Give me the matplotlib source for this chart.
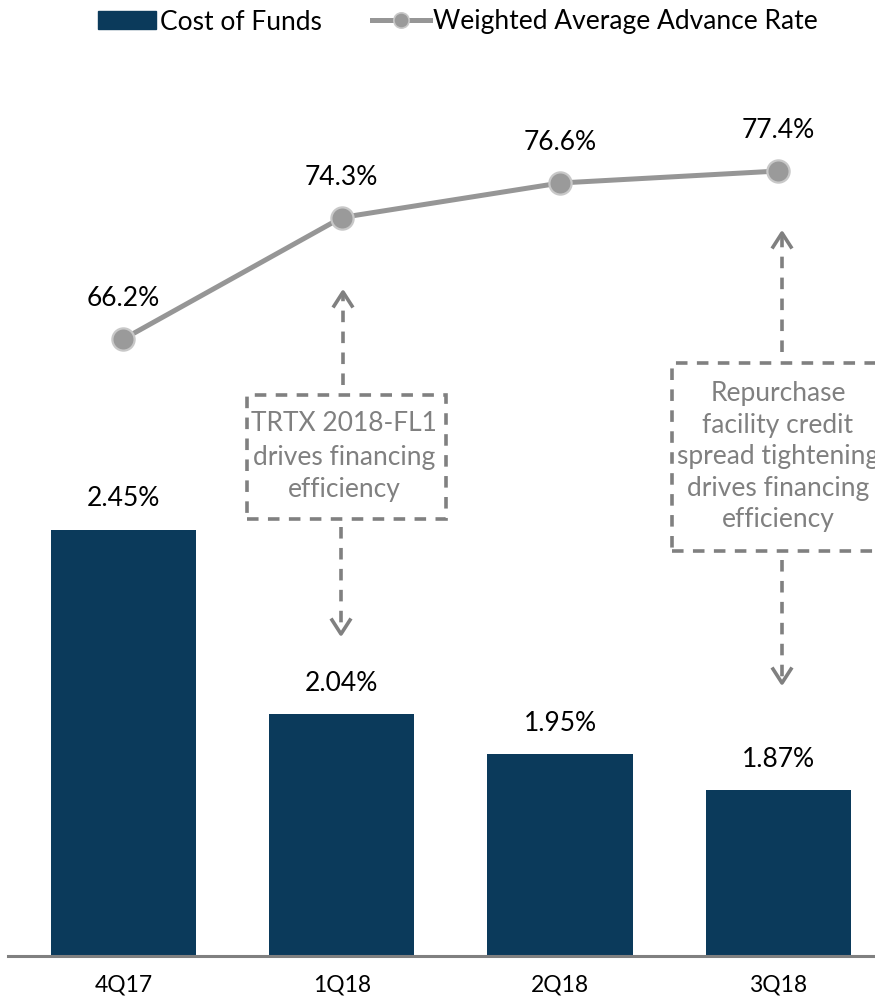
import matplotlib
matplotlib.use("Agg")
import matplotlib.pyplot as plt
from matplotlib.patches import Rectangle
from matplotlib.lines import Line2D

plt.rcParams['font.family'] = ['Lato', 'DejaVu Sans']

# Data
quarters = ["4Q17", "1Q18", "2Q18", "3Q18"]
cost_of_funds = [2.45, 2.04, 1.95, 1.87]          # percent
advance_rate = [66.2, 74.3, 76.6, 77.4]           # percent
bar_labels = ["2.45%", "2.04%", "1.95%", "1.87%"]
line_labels = ["66.2%", "74.3%", "76.6%", "77.4%"]

BAR_COLOR = "#0B3A5B"
LINE_COLOR = "#969696"
NOTE_COLOR = "#808080"
FS = 19

W, H = 875, 997
fig = plt.figure(figsize=(W / 100, H / 100), dpi=100)


def fx(px):
    return px / W


def fy(py):
    return 1 - py / H


ax = fig.add_axes([fx(8), fy(956), fx(867), (956 - 60) / H])
x = list(range(len(quarters)))

ax.bar(x, cost_of_funds, width=0.665, color=BAR_COLOR, zorder=2)
ax.set_ylim(1.5, 3.496)
ax.set_xlim(-0.529, 3.443)

for xi, v, lab in zip(x, cost_of_funds, bar_labels):
    ax.annotate(lab, (xi, v), xytext=(0, 22), textcoords="offset points",
                ha="center", va="center", fontsize=FS, color="black")

for s in ["top", "right", "left"]:
    ax.spines[s].set_visible(False)
ax.spines["bottom"].set_color("#808080")
ax.spines["bottom"].set_linewidth(2.2)
ax.set_yticks([])
ax.set_xticks(x)
ax.set_xticklabels(quarters, fontsize=16.5)
ax.tick_params(axis="x", length=0, pad=13)

ax2 = ax.twinx()
ax2.set_ylim(25.07, 84.8)
ax2.plot(x, advance_rate, color=LINE_COLOR, lw=3.6, marker="o", ms=16,
         mfc="#9A9A9A", mec="#C8C8C8", mew=1.6, zorder=3)
for xi, v, lab in zip(x, advance_rate, line_labels):
    ax2.annotate(lab, (xi, v), xytext=(0, 29), textcoords="offset points",
                 ha="center", va="center", fontsize=FS, color="black")
ax2.set_yticks([])
for s in ["top", "right", "left", "bottom"]:
    ax2.spines[s].set_visible(False)

# Callout boxes with dashed arrows
dash = (0, (3.2, 2.6))


def callout(x0, y0, x1, y1, cx, lines_y, lines, up, down):
    fig.add_artist(Rectangle((fx(x0), fy(y1)), fx(x1 - x0), (y1 - y0) / H,
                             fill=False, ec=NOTE_COLOR, lw=2.6, ls=dash,
                             transform=fig.transFigure))
    for ty, t in zip(lines_y, lines):
        fig.text(fx(cx), fy(ty), t, ha="center", va="center", fontsize=FS,
                 color=NOTE_COLOR)
    for (ax_x, ya, yb) in (up, down):
        fig.add_artist(Line2D([fx(ax_x), fx(ax_x)], [fy(ya), fy(yb)],
                              color=NOTE_COLOR, lw=2.6, ls=dash,
                              transform=fig.transFigure))
        sgn = 1 if yb < ya else -1
        fig.add_artist(Line2D([fx(ax_x - 9), fx(ax_x), fx(ax_x + 9)],
                              [fy(yb + sgn * 14), fy(yb), fy(yb + sgn * 14)],
                              color=NOTE_COLOR, lw=2.6,
                              transform=fig.transFigure))


callout(247, 395, 446, 519, 344, [423, 458, 490],
        ["TRTX 2018-FL1", "drives financing", "efficiency"],
        (343, 385, 292), (341, 527, 634))
callout(672, 363, 890, 551, 778, [393, 425, 456, 488, 520],
        ["Repurchase", "facility credit", "spread tightening",
         "drives financing", "efficiency"],
        (782, 352, 233), (782, 560, 683))

# Legend
handles = [Rectangle((0, 0), 1, 1, color=BAR_COLOR),
           Line2D([], [], color=LINE_COLOR, lw=3.6, marker="o", ms=11,
                  mfc="#9A9A9A", mec="#C8C8C8", mew=1.2)]
fig.legend(handles, ["Cost of Funds", "Weighted Average Advance Rate"],
           loc="center", bbox_to_anchor=(fx(458), fy(22)), ncol=2,
           frameon=False, fontsize=FS, handlelength=2.2, handleheight=0.7,
           handletextpad=0.12, columnspacing=1.9, borderpad=0)

fig.savefig("out.png", dpi=100)
